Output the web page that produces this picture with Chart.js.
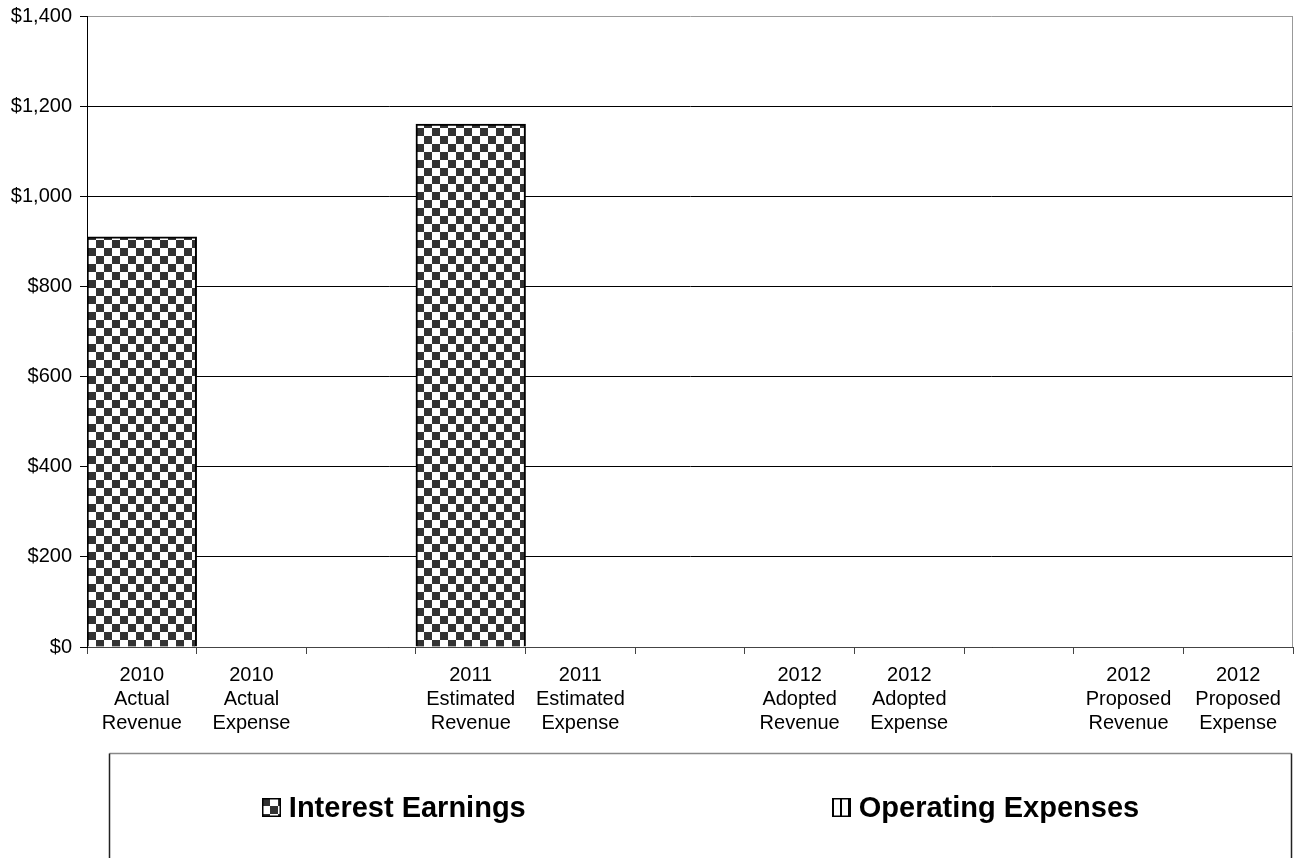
<!DOCTYPE html>
<html>
<head>
<meta charset="utf-8">
<title>Interest Earnings and Operating Expenses</title>
<script src="https://cdn.jsdelivr.net/npm/chart.js@4.4.1/dist/chart.umd.min.js"></script>
<style>
  body { margin: 0; background: #fff; }
  #wrap { width: 1300px; height: 858px; }
</style>
</head>
<body>
<div id="wrap"><canvas id="fundChart" width="1300" height="858"></canvas></div>
<script>
// categories (blank slots separate the fiscal years)
const categories = [
    ['2010', 'Actual', 'Revenue'],
    ['2010', 'Actual', 'Expense'],
    '',
    ['2011', 'Estimated', 'Revenue'],
    ['2011', 'Estimated', 'Expense'],
    '',
    ['2012', 'Adopted', 'Revenue'],
    ['2012', 'Adopted', 'Expense'],
    '',
    ['2012', 'Proposed', 'Revenue'],
    ['2012', 'Proposed', 'Expense']
];
const interestEarnings  = [910, 0, null, 1160, 0, null, 0, 0, null, 0, 0];
const operatingExpenses = [0, 0, null, 0, 0, null, 0, 0, null, 0, 0];
const yTicks = [0, 200, 400, 600, 800, 1000, 1200, 1400];

const FONT = '"Liberation Sans", Arial, sans-serif';

// --- fill patterns ---
function checkerPattern() {
    const c = document.createElement('canvas');
    c.width = 16; c.height = 16;
    const g = c.getContext('2d');
    g.fillStyle = '#fff';
    g.fillRect(0, 0, 16, 16);
    g.fillStyle = '#333';
    g.fillRect(0, 0, 8, 8);
    g.fillRect(8, 8, 8, 8);
    return g.createPattern(c, 'repeat');
}

function stripePattern() {
    const c = document.createElement('canvas');
    c.width = 8; c.height = 8;
    const g = c.getContext('2d');
    g.fillStyle = '#fff';
    g.fillRect(0, 0, 8, 8);
    g.fillStyle = '#000';
    g.fillRect(0, 0, 2, 8);
    return g.createPattern(c, 'repeat');
}

const checker = checkerPattern();
const stripes = stripePattern();

// zero values draw nothing: no fill, no border
const barBorder = (ctx) => (ctx.raw ? 2 : 0);
const barFill = (pattern) => (ctx) => (ctx.raw ? pattern : 'rgba(0,0,0,0)');

// gray frame on the right side of the plot
const plotFrame = {
    id: 'plotFrame',
    afterDatasetsDraw(chart) {
        const { ctx, chartArea } = chart;
        ctx.save();
        ctx.strokeStyle = '#999';
        ctx.lineWidth = 1;
        ctx.beginPath();
        ctx.moveTo(chartArea.right - 0.5, chartArea.top);
        ctx.lineTo(chartArea.right - 0.5, chartArea.bottom);
        ctx.stroke();
        ctx.restore();
    }
};

// legend in an open box below the axis
const legendBox = {
    id: 'legendBox',
    afterDraw(chart) {
        const { ctx, chartArea } = chart;
        const left = chartArea.left + 22.5;
        const right = chartArea.right - 1.5;
        const top = chartArea.bottom + 106.5;
        const bottom = chart.height + 2;

        ctx.save();
        ctx.lineWidth = 1.5;
        ctx.strokeStyle = '#888';
        ctx.beginPath();
        ctx.moveTo(left, top);
        ctx.lineTo(right, top);
        ctx.stroke();
        ctx.strokeStyle = '#222';
        ctx.beginPath();
        ctx.moveTo(left, top);
        ctx.lineTo(left, bottom);
        ctx.moveTo(right, top);
        ctx.lineTo(right, bottom);
        ctx.stroke();

        ctx.font = 'bold 29px ' + FONT;
        ctx.textBaseline = 'middle';
        const marker = 19, textGap = 8, itemGap = 306;
        const items = chart.data.datasets.map(ds => ({
            label: ds.label,
            fill: ds.legendFill,
            w: marker + textGap + ctx.measureText(ds.label).width
        }));
        const total = items.reduce((s, it) => s + it.w, 0) + itemGap * (items.length - 1);
        let x = (left + right) / 2 - total / 2;
        const cy = top + 54;

        items.forEach(it => {
            const my = Math.round(cy - marker / 2);
            const mx = Math.round(x);
            ctx.save();
            ctx.translate(mx, my);
            ctx.fillStyle = it.fill;
            ctx.fillRect(0, 0, marker, marker);
            ctx.restore();
            ctx.strokeStyle = '#000';
            ctx.lineWidth = 1.5;
            ctx.strokeRect(mx + 0.75, my + 0.75, marker - 1.5, marker - 1.5);

            ctx.fillStyle = '#000';
            ctx.textAlign = 'left';
            ctx.fillText(it.label, x + marker + textGap, cy + 1);
            x += it.w + itemGap;
        });
        ctx.restore();
    }
};

const ctx = document.getElementById('fundChart').getContext('2d');
new Chart(ctx, {
    type: 'bar',
    data: {
        labels: categories,
        datasets: [
            {
                label: 'Interest Earnings',
                data: interestEarnings,
                backgroundColor: barFill(checker),
                legendFill: checker,
                borderColor: '#000',
                borderWidth: barBorder
            },
            {
                label: 'Operating Expenses',
                data: operatingExpenses,
                backgroundColor: barFill(stripes),
                legendFill: stripes,
                borderColor: '#000',
                borderWidth: barBorder
            }
        ]
    },
    options: {
        responsive: false,
        animation: false,
        barPercentage: 1,
        categoryPercentage: 1,
        layout: { padding: { top: 16, right: 7, bottom: 121, left: 0 } },
        plugins: {
            legend: { display: false },
            tooltip: { enabled: false }
        },
        scales: {
            x: {
                stacked: true,
                afterFit: (scale) => { scale.height = 90; },
                grid: {
                    offset: true,
                    drawOnChartArea: false,
                    drawTicks: true,
                    tickLength: 7,
                    tickColor: '#444'
                },
                border: { color: '#444', width: 1 },
                ticks: {
                    color: '#000',
                    font: { family: FONT, size: 20, lineHeight: 1.2 },
                    padding: 9,
                    maxRotation: 0,
                    autoSkip: false
                }
            },
            y: {
                stacked: true,
                min: 0,
                max: 1400,
                afterFit: (scale) => {
                    scale.width = 87;
                    scale.paddingTop = 0;
                    scale.paddingBottom = 0;
                },
                afterBuildTicks: (scale) => { scale.ticks = yTicks.map(v => ({ value: v })); },
                grid: {
                    color: (c) => (c.tick && c.tick.value === 1400 ? '#999' : '#000'),
                    tickColor: '#000',
                    tickLength: 7
                },
                border: { color: '#000', width: 1 },
                ticks: {
                    color: '#000',
                    font: { family: FONT, size: 20 },
                    padding: 8,
                    callback: (v) => '$' + v.toLocaleString('en-US')
                }
            }
        }
    },
    plugins: [plotFrame, legendBox]
});
</script>
</body>
</html>
